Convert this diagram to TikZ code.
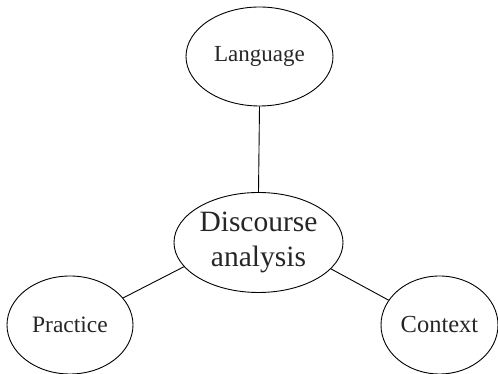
\documentclass[tikz,border=0pt]{standalone}
\usepackage{fontspec}
\setmainfont{Liberation Serif}
\usetikzlibrary{shapes.geometric}
\begin{document}
\begin{tikzpicture}[x=1pt,y=1pt,
  bubble/.style={draw,ellipse,line width=0.9pt,inner sep=0pt,align=center,text=black!85},
  link/.style={line width=0.9pt}]
\useasboundingbox (0,0) rectangle (498,374);
\node[bubble,minimum width=147pt,minimum height=99pt,font=\fontsize{23}{27}\selectfont] (lang) at (259.5,317.5) {Language};
\node[bubble,minimum width=169pt,minimum height=100pt,font=\fontsize{29.5}{35}\selectfont] (disc) at (258.5,131.5) {Discourse\\analysis};
\node[bubble,minimum width=126pt,minimum height=98pt,font=\fontsize{23.5}{28}\selectfont] (prac) at (70,49) {Practice};
\node[bubble,minimum width=117pt,minimum height=98pt,font=\fontsize{24.5}{29}\selectfont] (cont) at (439.5,49) {Context};
\draw[link] (lang.south) -- (disc.north);
\draw[link] (disc.198) -- (prac.27);
\draw[link] (disc.340) -- (cont.154);
\end{tikzpicture}
\end{document}
